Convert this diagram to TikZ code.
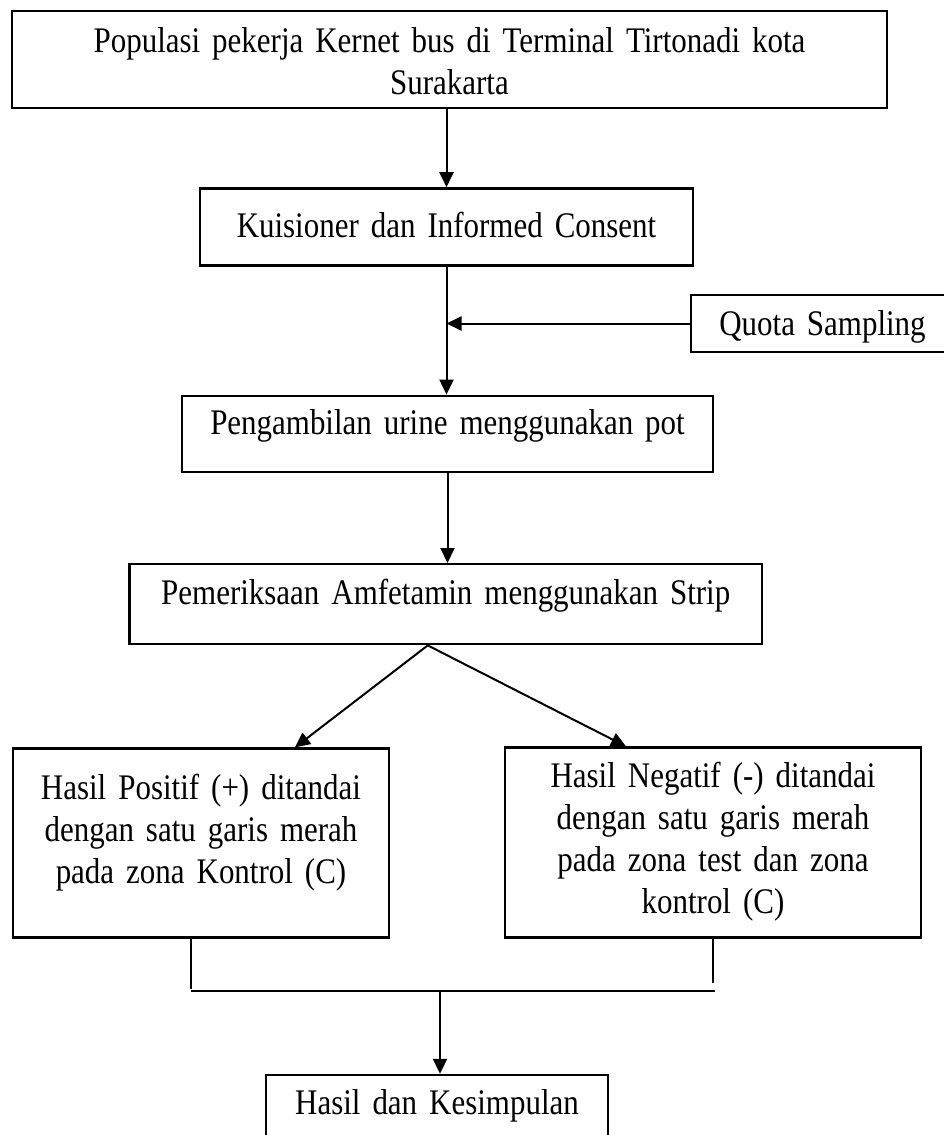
\documentclass[tikz,border=0pt]{standalone}
\usepackage{fontspec}
\setmainfont{Liberation Serif}[FakeStretch=0.86]
\usetikzlibrary{positioning,arrows.meta}
\tikzstyle{block} = [rectangle, draw, line width=2.4pt, inner sep=0pt,
    align=center, font=\fontsize{36pt}{42pt}\selectfont]
\tikzstyle{line} = [draw, line width=2pt, -{Triangle[length=15pt,width=14pt]}]
\tikzstyle{link} = [draw, line width=2pt]

\begin{document}
\begin{tikzpicture}[node distance=78pt]
    \useasboundingbox (0,0) rectangle (944pt,-1135pt);
    \clip (0,0) rectangle (944pt,-1135pt);
    % Place nodes
    \node [block, text width=875pt, text height=41pt, text depth=56pt] (pop) at (449.5pt,-59.5pt) {Populasi pekerja Kernet bus di Terminal Tirtonadi kota\\Surakarta};
    \node [block, text width=493pt, text height=49pt, text depth=28pt, below=78pt of pop, xshift=-3pt] (kuis) {Kuisioner dan Informed Consent};
    \node [block, text width=263pt, text height=40pt, text depth=17pt] (quota) at (822.5pt,-323.5pt) {Quota Sampling};
    \node [block, text width=531pt, text height=39pt, text depth=37pt, below=128pt of kuis, xshift=1pt] (urine) {Pengambilan urine menggunakan pot};
    \node [block, text width=632.5pt, text height=40pt, text depth=40pt, below=90pt of urine, xshift=-1.75pt] (amf) {Pemeriksaan Amfetamin menggunakan Strip};
    \node [block, text width=376pt, text height=51pt, text depth=138pt, below=102pt of amf, xshift=-244.75pt] (pos) {Hasil Positif (+) ditandai\\dengan satu garis merah\\pada zona Kontrol (C)};
    \node [block, text width=416pt, text height=40pt, text depth=150pt, below=101pt of amf, xshift=267.25pt] (neg) {Hasil Negatif (-) ditandai\\dengan satu garis merah\\pada zona test dan zona\\kontrol (C)};
    \node [block, text width=342pt, text height=39pt, text depth=48pt, below=135pt of pos, xshift=236pt] (hasil) {Hasil dan Kesimpulan};
    % split and join points
    \coordinate (split) at ([xshift=-18pt]amf.south);
    \coordinate (joinl) at (191pt,-991pt);
    \coordinate (joinr) at (715pt,-991pt);
    % Draw edges
    \path [line] (pop.south -| kuis.north) -- (kuis.north);
    \path [line] (kuis.south) -- (urine.north -| kuis.south);
    \path [line] (quota.west) -- (quota.west -| kuis.south);
    \path [line] (urine.south) -- (urine.south |- amf.north);
    \path [line] (split) -- ([xshift=94pt]pos.north);
    \path [line] (split) -- ([xshift=-87pt]neg.north);
    \path [link] (pos.south -| joinl) -- ([yshift=2pt]joinl);
    \path [link] (neg.south) -- ([yshift=8pt]neg.south |- joinr);
    \path [link] (joinl) -- (joinr);
    \path [line] ([xshift=3pt]hasil.north |- joinl) -- ([xshift=3pt]hasil.north);
\end{tikzpicture}
\end{document}
